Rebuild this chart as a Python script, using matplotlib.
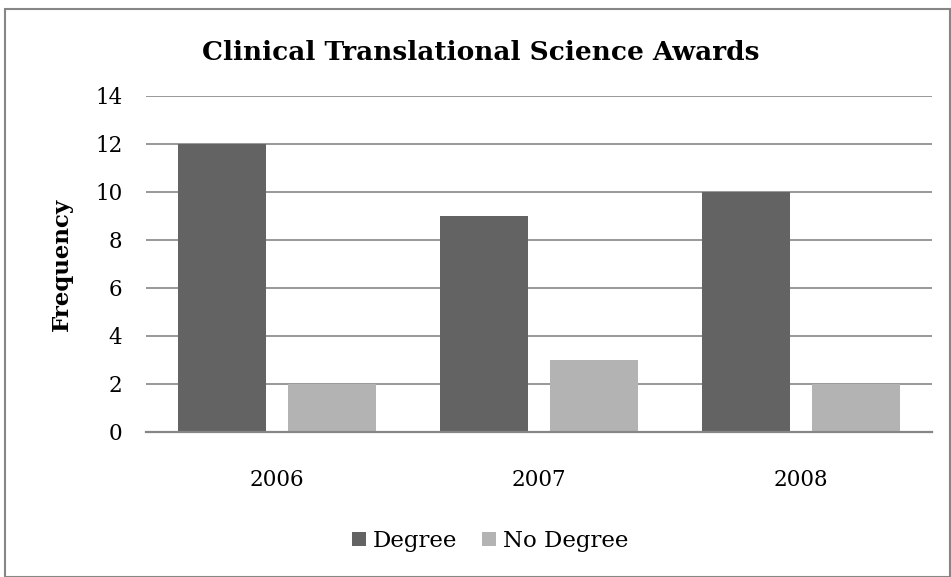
import matplotlib
matplotlib.use('Agg')
import matplotlib.pyplot as plt
import numpy as np
from matplotlib.patches import Rectangle

years = ['2006', '2007', '2008']
degree = [12, 9, 10]
no_degree = [2, 3, 2]

plt.rcParams['font.family'] = ['DejaVu Serif']

fig = plt.figure(figsize=(9.51, 5.77), dpi=100)
W, H = 951, 577
ax = fig.add_axes([146 / W, 1 - 432 / H, (932 - 146) / W, (432 - 96) / H])

x = np.arange(len(years))
bw = 0.335
ax.bar(x - 0.21, degree, bw, color='#636363', label='Degree', zorder=3)
ax.bar(x + 0.21, no_degree, bw, color='#b3b3b3', label='No Degree', zorder=3)

ax.set_xlim(-0.5, 2.5)
ax.set_ylim(0, 14)
ax.set_yticks(range(0, 15, 2))
ax.set_xticks(x)
ax.set_xticklabels(years, fontsize=15.5)
ax.tick_params(axis='y', length=0, labelsize=15.5, pad=17)
ax.tick_params(axis='x', length=0, pad=27)
ax.yaxis.grid(True, color='#868686', linewidth=1.2, zorder=0)
for s in ['top', 'right', 'left']:
    ax.spines[s].set_visible(False)
ax.spines['bottom'].set_color('#868686')
ax.spines['bottom'].set_linewidth(1.6)
ax.spines['bottom'].set_zorder(4)

ax.set_ylabel('Frequency', fontsize=16.5, fontweight='bold', labelpad=16)
fig.text(481 / W, 1 - 52 / H, 'Clinical Translational Science Awards',
         ha='center', va='center', fontsize=19, fontweight='bold')

fig.legend(loc='center', bbox_to_anchor=(490 / W, 1 - 541 / H), ncol=2,
           frameon=False, fontsize=16.5, handlelength=0.6, handleheight=0.6,
           handletextpad=0.3, columnspacing=1.1)

fig.patches.append(Rectangle((5 / W, 0), 945 / W, 1 - 9 / H, transform=fig.transFigure,
                             fill=False, edgecolor='#868686', linewidth=1.5))

fig.savefig('out.png', dpi=100, facecolor='white')
